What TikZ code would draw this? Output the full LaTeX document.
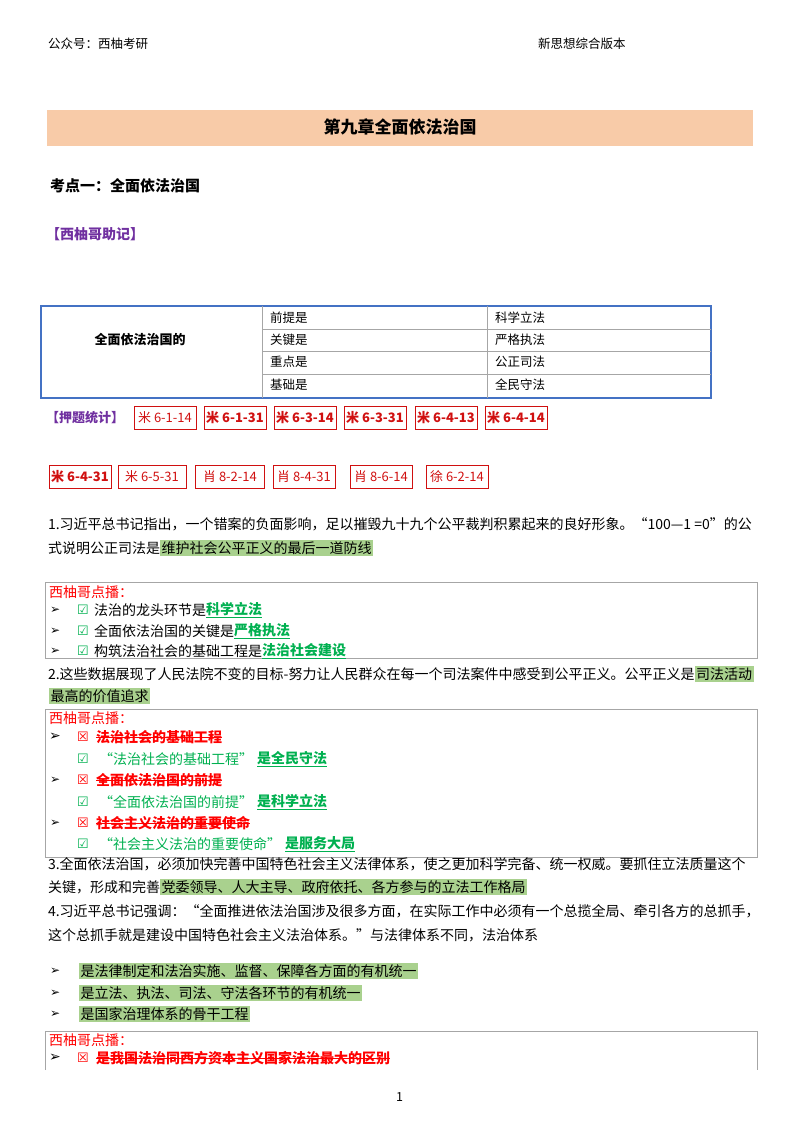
\documentclass[tikz,border=0pt]{standalone}
\usepackage{fontspec}
\setmainfont{Noto Sans CJK SC}
\newfontfamily\djvf{DejaVu Sans}
\definecolor{peach}{HTML}{F8CBA8}
\definecolor{hl}{HTML}{A9D18E}
\definecolor{gr}{HTML}{00B050}
\definecolor{pur}{HTML}{7030A0}
\definecolor{tblue}{HTML}{4472C4}
\definecolor{rd}{HTML}{FF0000}
\definecolor{tagred}{HTML}{D01010}
\tikzset{
 t/.style={anchor=west,inner sep=0,outer sep=0,font=\fontsize{14}{16}\selectfont},
 sm/.style={anchor=west,inner sep=0,font=\fontsize{12.5}{14}\selectfont},
 h/.style={t,fill=hl,inner sep=1.5pt},
 tag/.style={draw=tagred,line width=1pt,text=tagred,minimum height=23pt,inner xsep=2pt,font=\fontsize{13}{15}\selectfont},
 tagb/.style={tag,font=\fontsize{13}{15}\selectfont\bfseries},
 cbox/.style={draw=gray!70,line width=0.8pt},
 arr/.style={t,font=\djvf\fontsize{12}{14}\selectfont},
 ok/.style={t,text=gr,font=\djvf\fontsize{13}{15}\selectfont},
 no/.style={t,text=rd,font=\djvf\fontsize{13}{15}\selectfont},
 strk/.style={rd,line width=1pt},
 bgr/.style={t,text=gr,font=\fontsize{14}{16}\selectfont\bfseries},
 brd/.style={t,text=rd,font=\fontsize{14}{16}\selectfont\bfseries},
}
\begin{document}
\begin{tikzpicture}[x=1pt,y=-1pt]
\useasboundingbox (0,0) rectangle (800,1132);
% header
\node[sm] (h1) at (48,44) {公众号：西柚考研};
\node[sm] (h2) at (538,44) {新思想综合版本};
\fill[peach] (47,110) rectangle (753,146);
\node[font=\fontsize{17}{19}\selectfont\bfseries] (title) at (400,127) {第九章全面依法治国};
\node[t,font=\fontsize{15}{17}\selectfont\bfseries] (kd) at (50,186) {考点一：全面依法治国};
\node[t,text=pur,font=\fontsize{14}{16}\selectfont\bfseries] (zj) at (46,234) {【西柚哥助记】};
% table
\draw[tblue,line width=1.2pt] (41,306) rectangle (711,398);
\draw[gray!70] (262,306) -- (262,398) (487,306) -- (487,398);
\foreach \y in {329,351,374} \draw[gray!70] (262,\y) -- (711,\y);
\node[font=\fontsize{13}{15}\selectfont\bfseries] (tl) at (140,340) {全面依法治国的};
\node[sm] (a1) at (270,318) {前提是}; \node[sm] (b1) at (495,318) {科学立法};
\node[sm] (a2) at (270,340) {关键是}; \node[sm] (b2) at (495,340) {严格执法};
\node[sm] (a3) at (270,362) {重点是}; \node[sm] (b3) at (495,362) {公正司法};
\node[sm] (a4) at (270,385) {基础是}; \node[sm] (b4) at (495,385) {全民守法};
% tags
\node[t,text=pur,font=\fontsize{13}{15}\selectfont\bfseries] (yt) at (46,418) {【押题统计】};
\node[tag,minimum width=62pt] (g1) at (165,418) {米 6-1-14};
\node[tagb,minimum width=62pt] (g2) at (235,418) {米 6-1-31};
\node[tagb,minimum width=62pt] (g3) at (305,418) {米 6-3-14};
\node[tagb,minimum width=62pt] (g4) at (375,418) {米 6-3-31};
\node[tagb,minimum width=62pt] (g5) at (446,418) {米 6-4-13};
\node[tagb,minimum width=62pt] (g6) at (516,418) {米 6-4-14};
\node[tagb,minimum width=62pt] (g7) at (80,477) {米 6-4-31};
\node[tag,minimum width=68pt] (g8) at (152,477) {米 6-5-31};
\node[tag,minimum width=69pt] (g9) at (230,477) {肖 8-2-14};
\node[tag,minimum width=62pt] (g10) at (304,477) {肖 8-4-31};
\node[tag,minimum width=62pt] (g11) at (381,477) {肖 8-6-14};
\node[tag,minimum width=62pt] (g12) at (457,477) {徐 6-2-14};
% para 1
\node[t] (p1a) at (48,524) {1.习近平总书记指出，一个错案的负面影响，足以摧毁九十九个公平裁判积累起来的良好形象。“100—1 =0”的公};
\node[t] (p1b) at (48,548) {式说明公正司法是};
\node[h,anchor=west] (p1c) at (p1b.east) {维护社会公平正义的最后一道防线};
% box 1
\draw[cbox] (45,582) rectangle (757,658);
\node[t,text=rd] (x1) at (49,592) {西柚哥点播：};
\foreach \y/\a/\b [count=\i] in {610/法治的龙头环节是/科学立法,631/全面依法治国的关键是/严格执法,651/构筑法治社会的基础工程是/法治社会建设}{
 \node[arr] (ar\i) at (50,\y) {➢};
 \node[ok] (ck\i) at (77,\y) {☑};
 \node[t,anchor=west] (ta\i) at (94,\y) {\a};
 \node[bgr,anchor=west] (tb\i) at (ta\i.east) {\underline{\b}};
}
% para 2
\node[t] (p2a) at (48,674) {2.这些数据展现了人民法院不变的目标-努力让人民群众在每一个司法案件中感受到公平正义。公平正义是};
\node[h,anchor=west] (p2b) at (p2a.east) {司法活动};
\node[h] (p2c) at (49,696) {最高的价值追求};
% box 2
\draw[cbox] (45,709) rectangle (757,857);
\node[t,text=rd] (x2) at (49,718) {西柚哥点播：};
\node[arr,font=\djvf\fontsize{14}{16}\selectfont\bfseries] (br1) at (49,737) {➢};
\node[no] (bx1) at (77,737) {☒};
\node[brd] (bs1) at (96,737) {法治社会的基础工程};
\draw[strk] (bs1.west) -- (bs1.east);
\node[ok] (bc1) at (77,759) {☑};
\node[t,text=gr] (bq1) at (99,759) {“法治社会的基础工程”};
\node[bgr,anchor=west] (bg1) at ([xshift=4pt]bq1.east) {\underline{是全民守法}};
\node[arr] (br2) at (50,780) {➢};
\node[no] (bx2) at (77,780) {☒};
\node[brd] (bs2) at (96,780) {全面依法治国的前提};
\draw[strk] (bs2.west) -- (bs2.east);
\node[ok] (bc2) at (77,802) {☑};
\node[t,text=gr] (bq2) at (99,802) {“全面依法治国的前提”};
\node[bgr,anchor=west] (bg2) at ([xshift=4pt]bq2.east) {\underline{是科学立法}};
\node[arr] (br3) at (50,823) {➢};
\node[no] (bx3) at (77,823) {☒};
\node[brd] (bs3) at (96,823) {社会主义法治的重要使命};
\draw[strk] (bs3.west) -- (bs3.east);
\node[ok] (bc3) at (77,844) {☑};
\node[t,text=gr] (bq3) at (99,844) {“社会主义法治的重要使命”};
\node[bgr,anchor=west] (bg3) at ([xshift=4pt]bq3.east) {\underline{是服务大局}};
% para 3
\node[t] (p3a) at (48,864) {3.全面依法治国，必须加快完善中国特色社会主义法律体系，使之更加科学完备、统一权威。要抓住立法质量这个};
\node[t] (p3b) at (48,887) {关键，形成和完善};
\node[h,anchor=west] (p3c) at (p3b.east) {党委领导、人大主导、政府依托、各方参与的立法工作格局};
% para 4
\node[t] (p4a) at (48,911) {4.习近平总书记强调：“全面推进依法治国涉及很多方面，在实际工作中必须有一个总揽全局、牵引各方的总抓手，};
\node[t] (p4b) at (48,935) {这个总抓手就是建设中国特色社会主义法治体系。”与法律体系不同，法治体系};
\node[arr] (c1) at (50,971) {➢};
\node[h] (d1) at (79,971) {是法律制定和法治实施、监督、保障各方面的有机统一};
\node[arr] (c2) at (50,993) {➢};
\node[h] (d2) at (79,993) {是立法、执法、司法、守法各环节的有机统一};
\node[arr] (c3) at (50,1014) {➢};
\node[h] (d3) at (79,1014) {是国家治理体系的骨干工程};
% box 3
\draw[cbox] (45,1070) -- (45,1031) -- (757,1031) -- (757,1070);
\node[t,text=rd] (x3) at (49,1040) {西柚哥点播：};
\node[arr,font=\djvf\fontsize{14}{16}\selectfont\bfseries] (er) at (49,1058) {➢};
\node[no] (ex) at (77,1058) {☒};
\node[brd] (es) at (96,1058) {是我国法治同西方资本主义国家法治最大的区别};
\draw[strk] (es.west) -- (es.east);
\node[sm] (pg) at (396,1097) {1};
\end{tikzpicture}
\end{document}
